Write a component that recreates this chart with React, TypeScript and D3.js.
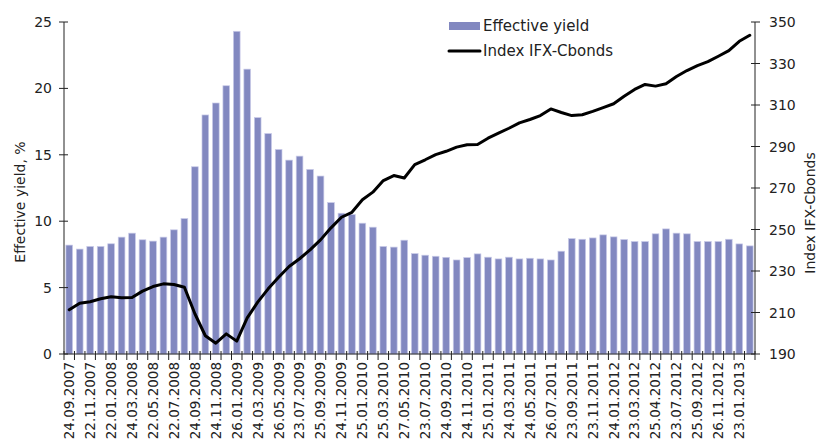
import * as d3 from 'd3';
import React, { useEffect, useRef } from 'react';

// every other date is labelled on the axis (one label per two bars)
const labels = [
  '24.09.2007', '22.11.2007', '22.01.2008', '24.03.2008', '22.05.2008', '22.07.2008',
  '24.09.2008', '24.11.2008', '26.01.2009', '24.03.2009', '26.05.2009', '23.07.2009',
  '25.09.2009', '24.11.2009', '25.01.2010', '25.03.2010', '27.05.2010', '23.07.2010',
  '24.09.2010', '24.11.2010', '25.01.2011', '24.03.2011', '24.05.2011', '26.07.2011',
  '23.09.2011', '23.11.2011', '24.01.2012', '23.03.2012', '25.04.2012', '23.07.2012',
  '25.09.2012', '26.11.2012', '23.01.2013'
];

const yieldValues = [
  8.2, 7.9, 8.1, 8.1, 8.3, 8.8, 9.1, 8.6, 8.5, 8.8, 9.35, 10.2,
  14.1, 18.0, 18.9, 20.2, 24.3, 21.45, 17.8, 16.6, 15.4, 14.6, 14.9, 13.9,
  13.4, 11.4, 10.6, 10.5, 9.85, 9.55, 8.1, 8.05, 8.57, 7.56, 7.44, 7.36,
  7.28, 7.08, 7.26, 7.54, 7.29, 7.16, 7.29, 7.16, 7.21, 7.16, 7.08, 7.74,
  8.69, 8.64, 8.74, 8.97, 8.82, 8.62, 8.47, 8.47, 9.05, 9.42, 9.1, 9.05,
  8.47, 8.47, 8.47, 8.64, 8.29, 8.14
];

const indexValues = [
  211.3, 214.5, 215.2, 216.6, 217.6, 217.1, 217.2, 220.3, 222.5, 223.8, 223.5, 222.2,
  209.4, 198.8, 195.2, 199.7, 196.2, 207.4, 215.0, 221.4, 227.0, 232.2, 235.9, 240.2,
  245.0, 250.8, 255.9, 258.3, 264.3, 268.0, 273.6, 276.0, 274.8, 281.3, 283.6, 286.1,
  287.7, 289.7, 290.8, 291.0, 294.0, 296.4, 298.8, 301.4, 303.0, 304.9, 308.1, 306.4,
  304.9, 305.3, 306.9, 308.7, 310.6, 314.2, 317.5, 319.9, 319.1, 320.2, 323.7, 326.6,
  329.0, 330.9, 333.5, 336.2, 340.7, 343.6
];

const leftTicks = [0, 5, 10, 15, 20, 25];
const rightTicks = [190, 210, 230, 250, 270, 290, 310, 330, 350];

const width = 819;
const height = 445;
const font = '"DejaVu Sans", sans-serif';

const App: React.FC = () => {
  const svgRef = useRef<SVGSVGElement>(null);

  useEffect(() => {
    if (!svgRef.current) return;
    const svg = d3.select(svgRef.current);
    svg.selectAll('*').remove();

    const margin = { top: 22, right: 64, bottom: 91, left: 64 };
    const x0 = margin.left;
    const x1 = width - margin.right;
    const yBottom = height - margin.bottom;

    const x = d3.scaleBand<number>()
      .domain(d3.range(yieldValues.length))
      .range([x0, x1])
      .paddingInner(0.36)
      .paddingOuter(0.18);

    const yLeft = d3.scaleLinear().domain([0, 25]).range([yBottom, margin.top]);
    const yRight = d3.scaleLinear().domain([190, 350]).range([yBottom, margin.top]);

    // bars
    svg.append('g')
      .selectAll('rect')
      .data(yieldValues)
      .join('rect')
      .attr('x', (d, i) => x(i) || 0)
      .attr('y', d => yLeft(d))
      .attr('width', x.bandwidth())
      .attr('height', d => yBottom - yLeft(d))
      .attr('fill', '#8288c0')
      .attr('stroke', '#c9cbe8')
      .attr('stroke-width', 0.7);

    const axisColor = '#222';

    // x axis
    svg.append('line')
      .attr('x1', x0).attr('x2', x1)
      .attr('y1', yBottom).attr('y2', yBottom)
      .attr('stroke', axisColor).attr('stroke-width', 1);

    const step = x.step();
    const start = x0 + (x.paddingOuter() - x.paddingInner() / 2) * step;
    svg.append('g')
      .selectAll('line')
      .data(d3.range(yieldValues.length + 1))
      .join('line')
      .attr('x1', i => start + i * step)
      .attr('x2', i => start + i * step)
      .attr('y1', yBottom - 3)
      .attr('y2', yBottom + 6)
      .attr('stroke', axisColor);

    svg.append('g')
      .selectAll('text')
      .data(labels)
      .join('text')
      .attr('transform', (d, i) => {
        const cx = (x(i * 2) || 0) + x.bandwidth() / 2;
        return `translate(${cx}, ${yBottom + 8}) rotate(-90)`;
      })
      .attr('text-anchor', 'end')
      .attr('dy', '0.36em')
      .attr('font-family', font)
      .attr('font-size', '13.5px')
      .attr('fill', '#222')
      .text(d => d);

    // left axis
    svg.append('line')
      .attr('x1', x0).attr('x2', x0)
      .attr('y1', margin.top).attr('y2', yBottom)
      .attr('stroke', axisColor);
    const lt = svg.append('g').selectAll('g').data(leftTicks).join('g')
      .attr('transform', d => `translate(${x0}, ${yLeft(d)})`);
    lt.append('line').attr('x1', -5).attr('x2', 4).attr('stroke', axisColor);
    lt.append('text')
      .attr('x', -12)
      .attr('dy', '0.36em')
      .attr('text-anchor', 'end')
      .attr('font-family', font)
      .attr('font-size', '14px')
      .attr('fill', '#222')
      .text(d => d);

    // right axis
    svg.append('line')
      .attr('x1', x1).attr('x2', x1)
      .attr('y1', margin.top).attr('y2', yBottom)
      .attr('stroke', axisColor);
    const rt = svg.append('g').selectAll('g').data(rightTicks).join('g')
      .attr('transform', d => `translate(${x1}, ${yRight(d)})`);
    rt.append('line').attr('x1', -4).attr('x2', 5).attr('stroke', axisColor);
    rt.append('text')
      .attr('x', 14)
      .attr('dy', '0.36em')
      .attr('font-family', font)
      .attr('font-size', '14px')
      .attr('fill', '#222')
      .text(d => d);

    // index line
    const line = d3.line<number>()
      .x((d, i) => (x(i) || 0) + x.bandwidth() / 2)
      .y(d => yRight(d));
    svg.append('path')
      .datum(indexValues)
      .attr('d', line)
      .attr('fill', 'none')
      .attr('stroke', '#000')
      .attr('stroke-width', 3)
      .attr('stroke-linejoin', 'round')
      .attr('stroke-linecap', 'round');

    // axis titles
    svg.append('text')
      .attr('transform', 'translate(20, 202) rotate(-90)')
      .attr('text-anchor', 'middle')
      .attr('dy', '0.36em')
      .attr('font-family', font)
      .attr('font-size', '14px')
      .attr('fill', '#222')
      .text('Effective yield, %');

    svg.append('text')
      .attr('transform', 'translate(810, 213) rotate(-90)')
      .attr('text-anchor', 'middle')
      .attr('dy', '0.36em')
      .attr('font-family', font)
      .attr('font-size', '14px')
      .attr('fill', '#222')
      .text('Index IFX-Cbonds');

    // legend
    const legend = svg.append('g').attr('transform', 'translate(449, 26)');
    legend.append('rect')
      .attr('x', 0).attr('y', -4).attr('width', 31).attr('height', 8)
      .attr('fill', '#8288c0');
    legend.append('text')
      .attr('x', 34).attr('dy', '0.36em')
      .attr('font-family', font).attr('font-size', '15px').attr('fill', '#222')
      .text('Effective yield');
    legend.append('line')
      .attr('x1', 0).attr('x2', 31).attr('y1', 25).attr('y2', 25)
      .attr('stroke', '#000').attr('stroke-width', 3).attr('stroke-linecap', 'round');
    legend.append('text')
      .attr('x', 34).attr('y', 25).attr('dy', '0.36em')
      .attr('font-family', font).attr('font-size', '15px').attr('fill', '#222')
      .text('Index IFX-Cbonds');
  }, []);

  return (
    <div style={{ position: 'absolute', left: 0, top: 0, background: '#fff' }}>
      <svg ref={svgRef} width={width} height={height} />
    </div>
  );
};

export default App;
